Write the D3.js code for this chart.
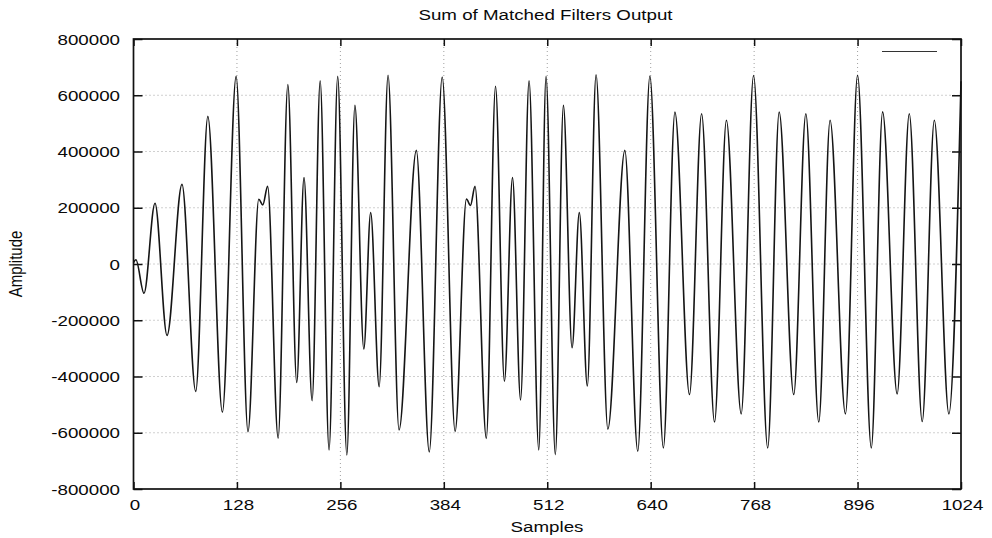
<!DOCTYPE html>
<html>
<head>
<meta charset="utf-8">
<script src="https://cdn.jsdelivr.net/npm/d3@7"></script>
<style>
  body { margin: 0; background: #fff; }
  svg { display: block; }
  text { font-family: "Liberation Sans", Arial, sans-serif; fill: #0a0a0a; }
</style>
</head>
<body>
<svg id="chart" width="992" height="538"></svg>
<script>
// axis ticks
const xTicks = [0, 128, 256, 384, 512, 640, 768, 896, 1024];
const yTicks = [-800000, -600000, -400000, -200000, 0, 200000, 400000, 600000, 800000];

// turning points of the output
const samples = [0, 3, 13, 26.6, 41.5, 60, 77, 92, 110, 127, 141.7, 155, 160, 166, 179, 191, 202, 211, 221, 231,
    242, 252.7, 264, 274, 285, 293.5, 304, 315, 328.6, 350, 366, 382, 398, 412, 417, 422.6, 436.6, 448, 459, 469,
    479, 489.5, 501.5, 510.5, 522, 532, 542.7, 551.7, 561.6, 572.4, 587, 608, 624, 639, 655.7, 670, 688, 703, 719, 733.7,
    752, 767.3, 784.8, 799, 817, 832, 848, 862, 881, 896, 913, 927, 945, 960, 976, 991, 1009, 1024];
const amplitude = [5000, 15000, -104000, 216000, -254000, 283000, -453000, 525000, -527000, 667000, -596000, 230000, 210000, 276000, -619000, 638000, -421000, 307000, -486000, 651000,
    -661000, 667000, -679000, 564000, -302000, 183000, -436000, 671000, -590000, 404000, -668000, 665000, -595000, 231000, 208000, 276000, -620000, 632000, -417000, 307000,
    -483000, 651000, -661000, 667000, -678000, 564000, -298000, 183000, -434000, 673000, -587000, 404000, -666000, 668000, -654000, 540000, -464000, 534000, -562000, 511000,
    -533000, 670000, -654000, 540000, -464000, 534000, -562000, 511000, -533000, 671000, -654000, 541000, -462000, 534000, -560000, 511000, -533000, 650000];

const svg = d3.select("#chart");
const plotLeft = 133.5, plotRight = 961, plotTop = 39, plotBottom = 489;

const x = d3.scaleLinear().domain([0, 1024]).range([plotLeft, plotRight]);
const y = d3.scaleLinear().domain([-800000, 800000]).range([plotBottom, plotTop]);

// grid
const grid = svg.append("g").attr("stroke", "#a0a0a0").attr("stroke-width", 1).attr("stroke-dasharray", "1,3");
grid.selectAll("line.gx")
    .data(xTicks.slice(1, -1))
    .enter().append("line")
        .attr("x1", d => x(d)).attr("x2", d => x(d))
        .attr("y1", plotTop).attr("y2", plotBottom);
grid.selectAll("line.gy")
    .data(yTicks.slice(1, -1))
    .enter().append("line")
        .attr("x1", plotLeft).attr("x2", plotRight)
        .attr("y1", d => y(d)).attr("y2", d => y(d));

// inward ticks on all four sides, no labels here
const tickStyle = g => {
    g.select(".domain").remove();
    g.selectAll("line").attr("stroke", "#111").attr("stroke-width", 1.5);
    g.selectAll("text").remove();
};
svg.append("g").attr("transform", `translate(0,${plotBottom})`)
    .call(d3.axisBottom(x).tickValues(xTicks).tickSize(-7)).call(tickStyle);
svg.append("g").attr("transform", `translate(0,${plotTop})`)
    .call(d3.axisTop(x).tickValues(xTicks).tickSize(-7)).call(tickStyle);
svg.append("g").attr("transform", `translate(${plotLeft},0)`)
    .call(d3.axisLeft(y).tickValues(yTicks).tickSize(-9)).call(tickStyle);
svg.append("g").attr("transform", `translate(${plotRight},0)`)
    .call(d3.axisRight(y).tickValues(yTicks).tickSize(-9)).call(tickStyle);

// the signal
const pts = samples.map((s, i) => [s, amplitude[i]]);
const line = d3.line()
    .x(d => x(d[0]))
    .y(d => y(d[1]))
    .curve(d3.curveMonotoneX);
svg.append("path")
    .datum(pts)
    .attr("fill", "none")
    .attr("stroke", "#151515")
    .attr("stroke-width", 1.6)
    .attr("d", line);

// frame
svg.append("rect")
    .attr("x", plotLeft).attr("y", plotTop)
    .attr("width", plotRight - plotLeft).attr("height", plotBottom - plotTop)
    .attr("fill", "none").attr("stroke", "#111").attr("stroke-width", 1.7);

// empty legend entry
svg.append("line")
    .attr("x1", 882).attr("x2", 937).attr("y1", 51.5).attr("y2", 51.5)
    .attr("stroke", "#333").attr("stroke-width", 1);

// text is wide in the reference, so stretch it sideways
const stretched = (px, py, str, size, anchor) =>
    svg.append("text")
        .attr("transform", `translate(${px},${py}) scale(1.25,1)`)
        .attr("text-anchor", anchor)
        .style("font-size", size + "px")
        .text(str);

xTicks.forEach(t => stretched(x(t) + 1.5, 510, t, 15, "middle"));
yTicks.forEach(t => stretched(120, y(t) + 5.5, t, 15, "end"));

stretched(545.5, 20, "Sum of Matched Filters Output", 15, "middle");
stretched(547, 532, "Samples", 15, "middle");

svg.append("text")
    .attr("transform", `translate(22,${y(0)}) rotate(-90) scale(1,1.25)`)
    .attr("text-anchor", "middle")
    .style("font-size", "15px")
    .text("Amplitude");
</script>
</body>
</html>
